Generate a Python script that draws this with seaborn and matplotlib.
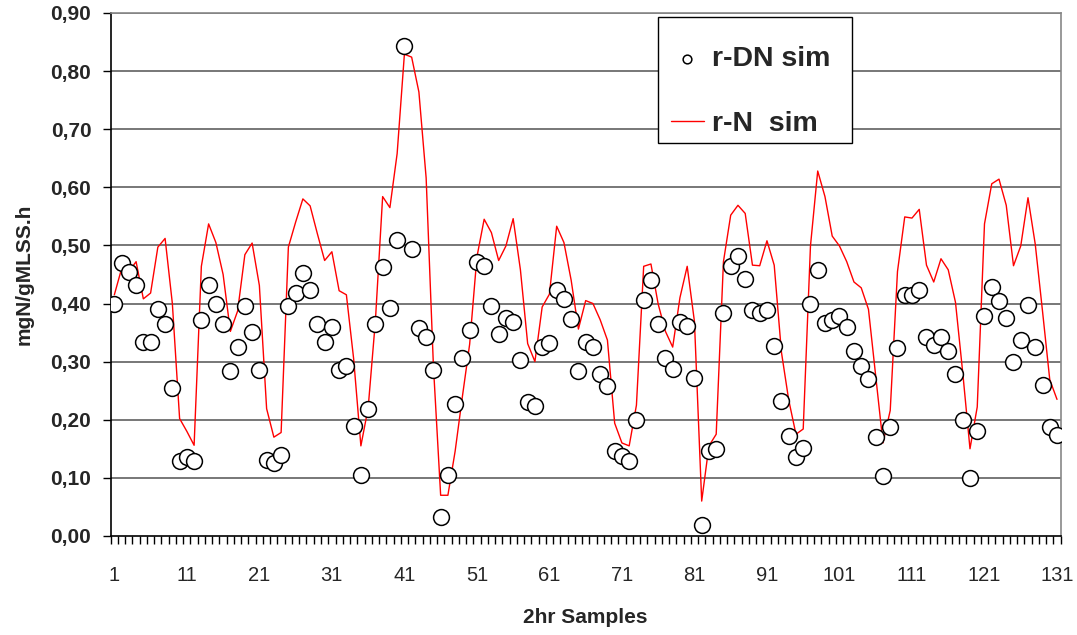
import numpy as np
import pandas as pd
import matplotlib
matplotlib.use("Agg")
import matplotlib.pyplot as plt
from matplotlib.patches import Rectangle
import seaborn as sns
from matplotlib.ticker import FuncFormatter, FixedLocator

samples = list(range(1, 132))

r_dn_sim = [0.40, 0.47, 0.454, 0.432, 0.333, 0.333, 0.391, 0.365, 0.255, 0.129,
            0.135, 0.129, 0.371, 0.432, 0.40, 0.365, 0.284, 0.325, 0.396, 0.351,
            0.286, 0.13, 0.125, 0.14, 0.396, 0.418, 0.452, 0.424, 0.365, 0.334,
            0.359, 0.285, 0.293, 0.19, 0.105, 0.219, 0.365, 0.462, 0.393, 0.509,
            0.843, 0.493, 0.358, 0.342, 0.285, 0.032, 0.105, 0.227, 0.307, 0.354,
            0.471, 0.465, 0.395, 0.348, 0.375, 0.368, 0.302, 0.231, 0.224, 0.325,
            0.332, 0.424, 0.408, 0.374, 0.284, 0.334, 0.325, 0.279, 0.258, 0.147,
            0.138, 0.129, 0.199, 0.406, 0.44, 0.365, 0.306, 0.288, 0.369, 0.362,
            0.271, 0.018, 0.146, 0.149, 0.384, 0.465, 0.481, 0.443, 0.388, 0.384,
            0.388, 0.327, 0.232, 0.172, 0.136, 0.151, 0.40, 0.458, 0.366, 0.372,
            0.379, 0.359, 0.318, 0.292, 0.27, 0.171, 0.104, 0.188, 0.324, 0.415,
            0.414, 0.424, 0.343, 0.328, 0.343, 0.318, 0.278, 0.2, 0.1, 0.181,
            0.379, 0.429, 0.405, 0.375, 0.299, 0.338, 0.398, 0.325, 0.259, 0.187,
            0.174]

r_n_sim = [0.415, 0.46, 0.455, 0.472, 0.408, 0.418, 0.497, 0.512, 0.40, 0.202,
           0.18, 0.156, 0.464, 0.537, 0.505, 0.45, 0.352, 0.387, 0.484, 0.504,
           0.431, 0.219, 0.17, 0.178, 0.497, 0.54, 0.58, 0.568, 0.52, 0.474,
           0.489, 0.422, 0.415, 0.305, 0.155, 0.22, 0.37, 0.584, 0.565, 0.658,
           0.829, 0.824, 0.764, 0.616, 0.293, 0.07, 0.07, 0.146, 0.24, 0.33,
           0.48, 0.545, 0.522, 0.474, 0.499, 0.546, 0.458, 0.331, 0.30, 0.394,
           0.416, 0.533, 0.505, 0.44, 0.356, 0.405, 0.40, 0.372, 0.337, 0.194,
           0.16, 0.155, 0.225, 0.464, 0.468, 0.399, 0.352, 0.325, 0.41, 0.464,
           0.369, 0.06, 0.155, 0.175, 0.472, 0.552, 0.569, 0.555, 0.466, 0.465,
           0.508, 0.466, 0.316, 0.234, 0.175, 0.184, 0.499, 0.628, 0.584, 0.516,
           0.499, 0.472, 0.437, 0.427, 0.39, 0.275, 0.16, 0.216, 0.455, 0.549,
           0.547, 0.562, 0.466, 0.437, 0.477, 0.458, 0.402, 0.281, 0.15, 0.222,
           0.537, 0.606, 0.614, 0.569, 0.465, 0.499, 0.582, 0.502, 0.387, 0.269,
           0.235]

x_tick_labels = [1, 11, 21, 31, 41, 51, 61, 71, 81, 91, 101, 111, 121, 131]
y_ticks = [0.0, 0.1, 0.2, 0.3, 0.4, 0.5, 0.6, 0.7, 0.8, 0.9]

df = pd.DataFrame({"sample": samples, "r-DN sim": r_dn_sim, "r-N sim": r_n_sim})

sns.set_theme(style="white")
plt.rcParams["font.family"] = ["Liberation Sans", "DejaVu Sans"]

fig = plt.figure(figsize=(10.77, 6.35), dpi=100)
ax = fig.add_axes([0.1028, 0.156, 0.882, 0.8236])

for y in y_ticks[1:]:
    ax.axhline(y, color="#777777", lw=1.4, zorder=0)

sns.lineplot(data=df, x="sample", y="r-N sim", ax=ax, color="#ff0000", lw=1.0,
             label="r-N  sim", zorder=2)
sns.scatterplot(data=df, x="sample", y="r-DN sim", ax=ax, marker="o", s=130,
                facecolor="white", edgecolor="black", linewidth=1.1,
                label="r-DN sim", zorder=3)

ax.set_xlim(0.5, 131.5)
ax.set_ylim(0, 0.9)
ax.set_yticks(y_ticks)
ax.yaxis.set_major_formatter(FuncFormatter(lambda v, p: f"{v:.2f}".replace(".", ",")))
ax.set_xticks(x_tick_labels)
ax.set_xticklabels([str(v) for v in x_tick_labels])
ax.xaxis.set_minor_locator(FixedLocator(np.arange(0.5, 132, 1.0)))
ax.tick_params(axis="x", which="major", length=0, pad=22, labelsize=14.5)
ax.tick_params(axis="x", which="minor", length=6, width=1, color="black", direction="out", bottom=True)
ax.tick_params(axis="y", which="major", length=6, width=1, color="black", direction="out", left=True,
               labelsize=15, pad=8)
for lab in ax.get_yticklabels():
    lab.set_fontweight("bold")

ax.set_xlabel("2hr Samples", fontsize=15, fontweight="bold", labelpad=16)
ax.set_ylabel("mgN/gMLSS.h", fontsize=15, fontweight="bold", labelpad=12)

for side in ["left", "bottom"]:
    ax.spines[side].set_color("black")
    ax.spines[side].set_linewidth(1.2)
for side in ["top", "right"]:
    ax.spines[side].set_color("#888888")
    ax.spines[side].set_linewidth(1.2)

# legend box
ax.add_patch(Rectangle((0.5761, 0.7514), 0.2042, 0.2409, transform=ax.transAxes,
                       facecolor="white", edgecolor="black", lw=1.0, zorder=4))

handles, labels = ax.get_legend_handles_labels()
order = [labels.index("r-DN sim"), labels.index("r-N  sim")]
leg = ax.legend([handles[i] for i in order], [labels[i] for i in order],
                loc="upper left", bbox_to_anchor=(0.5898, 0.936), borderaxespad=0,
                frameon=False, prop={"weight": "bold", "size": 20.5}, labelspacing=1.35,
                handlelength=1.16, handletextpad=0.28, borderpad=0, markerscale=0.55)
leg.set_zorder(5)

fig.savefig("out.png", dpi=100, facecolor="white")
